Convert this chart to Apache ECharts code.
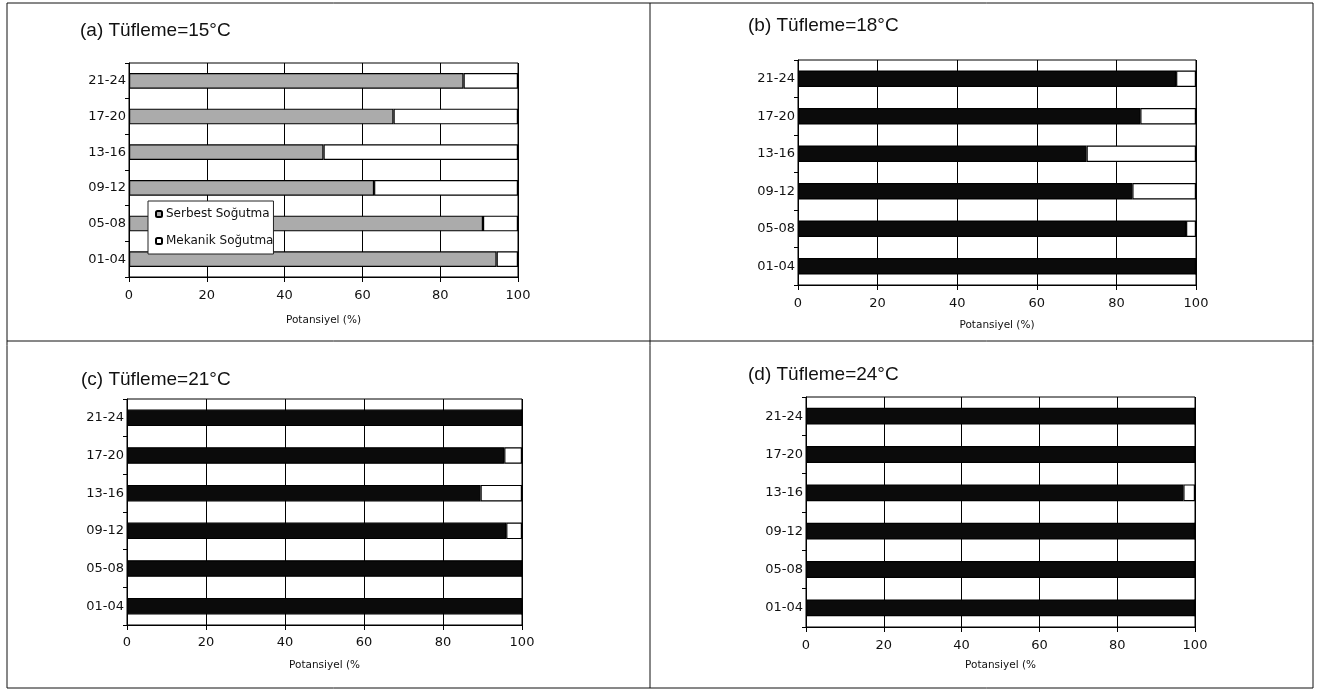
<!DOCTYPE html>
<html>
<head>
<meta charset="utf-8">
<script src="https://cdn.jsdelivr.net/npm/echarts@6/dist/echarts.min.js"></script>
<style>
html,body{margin:0;padding:0;background:#fff;}
#chart{width:1325px;height:691px;}
</style>
</head>
<body>
<div id="chart"></div>
<script>
// ---- data ----
const categories = ['01-04', '05-08', '09-12', '13-16', '17-20', '21-24'];
const xTicks = [0, 20, 40, 60, 80, 100];
const seriesNames = ['Serbest Soğutma', 'Mekanik Soğutma'];
const panelTitles = ['(a) Tüfleme=15°C', '(b) Tüfleme=18°C', '(c) Tüfleme=21°C', '(d) Tüfleme=24°C'];
const axisNames = ['Potansiyel (%)', 'Potansiyel (%)', 'Potansiyel (%', 'Potansiyel (%'];

const serbestA = [94.5, 91, 63, 50, 68, 86];
const mekanikA = [5.5, 9, 37, 50, 32, 14];
const serbestB = [100, 97.5, 84, 72.5, 86, 95];
const mekanikB = [0, 2.5, 16, 27.5, 14, 5];
const serbestC = [100, 100, 96, 89.5, 95.5, 100];
const mekanikC = [0, 0, 4, 10.5, 4.5, 0];
const serbestD = [100, 100, 100, 97, 100, 100];
const mekanikD = [0, 0, 0, 3, 0, 0];

const serbestAll = [serbestA, serbestB, serbestC, serbestD];
const mekanikAll = [mekanikA, mekanikB, mekanikC, mekanikD];

// ---- layout / style ----
const grids = [
  {left: 129, top: 63, width: 389, height: 214},
  {left: 798, top: 60, width: 398, height: 225},
  {left: 127, top: 399, width: 395, height: 226},
  {left: 806, top: 397, width: 389, height: 230}
];
const titlePos = [{left: 80, top: 21}, {left: 748, top: 16}, {left: 81, top: 370}, {left: 748, top: 365}];
const labelMargins = [12, 12, 11, 12];
const nameGaps = [38, 35, 35, 33];
const serbestColors = ['#ababab', '#0b0b0b', '#0b0b0b', '#0b0b0b'];

const FONT = 'DejaVu Sans';

const option = {
  animation: false,
  backgroundColor: '#fff',
  title: panelTitles.map((t, i) => ({
    text: t, left: titlePos[i].left, top: titlePos[i].top, padding: 0,
    textStyle: {fontFamily: 'Liberation Sans', fontSize: 19, fontWeight: 'normal', color: '#111'}
  })),
  legend: {
    data: seriesNames,
    orient: 'vertical',
    left: 148, top: 201,
    padding: [6, 0, 6, 7],
    itemWidth: 6, itemHeight: 6, itemGap: 13,
    backgroundColor: '#fff',
    borderColor: '#222', borderWidth: 1,
    textStyle: {fontFamily: FONT, fontSize: 12, color: '#111', lineHeight: 14, padding: [0, 0, 0, -1]}
  },
  graphic: [
    {type: 'rect', shape: {x: 7, y: 3, width: 1306, height: 685}, style: {fill: 'none', stroke: '#111', lineWidth: 1}, z: 100},
    {type: 'line', shape: {x1: 650, y1: 3, x2: 650, y2: 688}, style: {stroke: '#111', lineWidth: 1}, z: 100},
    {type: 'line', shape: {x1: 7, y1: 341, x2: 1313, y2: 341}, style: {stroke: '#111', lineWidth: 1}, z: 100}
  ],
  grid: grids.map(g => Object.assign({show: true, borderColor: '#000', borderWidth: 1, backgroundColor: '#fff'}, g)),
  xAxis: grids.map((g, i) => ({
    type: 'value', gridIndex: i, min: 0, max: 100, interval: 20,
    name: axisNames[i], nameLocation: 'middle', nameGap: nameGaps[i],
    nameTextStyle: {fontFamily: FONT, fontSize: 10.5, color: '#111'},
    axisLine: {show: true, lineStyle: {color: '#000', width: 1}},
    axisTick: {show: true, length: 5, lineStyle: {color: '#000'}},
    axisLabel: {fontFamily: FONT, fontSize: 13, color: '#111', margin: labelMargins[i],
      formatter: v => xTicks.includes(v) ? String(v) : ''},
    splitLine: {show: true, lineStyle: {color: '#000', width: 1}}
  })),
  yAxis: grids.map((g, i) => ({
    type: 'category', gridIndex: i, data: categories,
    axisLine: {show: true, lineStyle: {color: '#000', width: 1}},
    axisTick: {show: true, length: 4, lineStyle: {color: '#000'}},
    axisLabel: {fontFamily: FONT, fontSize: 13, color: '#111', margin: 3},
    splitLine: {show: false}
  })),
  series: []
};

for (let i = 0; i < 4; i++) {
  option.series.push({
    name: seriesNames[0], type: 'bar', xAxisIndex: i, yAxisIndex: i, stack: 'p' + i,
    data: serbestAll[i], barWidth: '44%',
    itemStyle: {color: serbestColors[i], borderColor: '#000', borderWidth: 1.2}
  });
  option.series.push({
    name: seriesNames[1], type: 'bar', xAxisIndex: i, yAxisIndex: i, stack: 'p' + i,
    data: mekanikAll[i], barWidth: '44%',
    itemStyle: {color: '#fff', borderColor: '#000', borderWidth: 1.2}
  });
}

const chart = echarts.init(document.getElementById('chart'), null, {renderer: 'canvas'});
chart.setOption(option);
</script>
</body>
</html>
